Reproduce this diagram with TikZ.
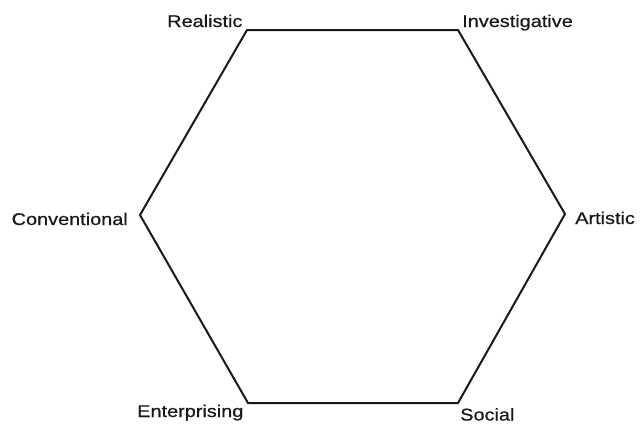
\documentclass[tikz,border=0pt]{standalone}
\usepackage{fontspec}
\setmainfont{Liberation Sans}
\newfontfamily\lblfont[FakeBold=0.6]{Liberation Sans}
\begin{document}
\begin{tikzpicture}[x=1pt,y=-1pt,
  lbl/.style={font=\lblfont\fontsize{17}{17}\selectfont, inner sep=0pt, xscale=1.17, text=black!90},
  edge/.style={line width=2pt, line join=miter, draw=black!90}]
\useasboundingbox (0,0) rectangle (643,424);
\coordinate (R) at (247,30);
\coordinate (I) at (458,30);
\coordinate (A) at (565,214);
\coordinate (S) at (458,403);
\coordinate (E) at (248,403);
\coordinate (C) at (140,215);
\draw[edge] (R) -- (I) -- (A) -- (S) -- (E) -- (C) -- cycle;
\node[lbl, anchor=base west] (rl) at (167,27) {Realistic};
\node[lbl, anchor=base west] (il) at (462,27) {Investigative};
\node[lbl, anchor=base east] (cl) at (128,225) {Conventional};
\node[lbl, anchor=base west] (al) at (575,224) {Artistic};
\node[lbl, anchor=base west] (el) at (137,417) {Enterprising};
\node[lbl, anchor=base west] (sl) at (460,420.5) {Social};
\end{tikzpicture}
\end{document}
